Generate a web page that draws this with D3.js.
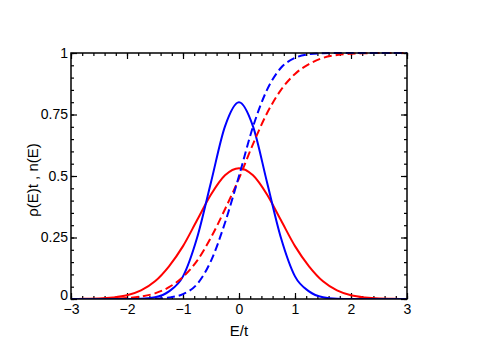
<!DOCTYPE html>
<html>
<head>
<meta charset="utf-8">
<script src="https://cdn.jsdelivr.net/npm/d3@7"></script>
<style>
  body { margin: 0; background: #fff; }
  svg text { font-family: "Liberation Sans", Arial, sans-serif; }
</style>
</head>
<body>
<svg id="chart"></svg>
<script>
// energies E/t (step 0.25)
const energies = [-3, -2.75, -2.5, -2.25, -2, -1.75, -1.5, -1.25, -1, -0.75, -0.5, -0.25, 0,
    0.25, 0.5, 0.75, 1, 1.25, 1.5, 1.75, 2, 2.25, 2.5, 2.75, 3]

// rho(E)t, red (broad) and blue (narrow)
const rhoRed = [0, 0.001, 0.002, 0.006, 0.015, 0.035, 0.072, 0.133, 0.215, 0.32, 0.425, 0.503, 0.532,
    0.503, 0.425, 0.32, 0.215, 0.133, 0.072, 0.035, 0.015, 0.006, 0.002, 0.001, 0]
const rhoBlue = [0, 0, 0, 0, 0, 0.001, 0.007, 0.031, 0.092, 0.248, 0.475, 0.702, 0.8,
    0.702, 0.475, 0.248, 0.092, 0.031, 0.007, 0.001, 0, 0, 0, 0, 0]

// n(E), dashed
const nRed = [0, 0, 0, 0.001, 0.004, 0.01, 0.023, 0.048, 0.09, 0.155, 0.25, 0.365, 0.49,
    0.63, 0.755, 0.85, 0.915, 0.955, 0.98, 0.992, 0.997, 0.999, 1, 1, 1]
const nBlue = [0, 0, 0, 0, 0, 0, 0.001, 0.006, 0.02, 0.06, 0.155, 0.31, 0.5,
    0.7, 0.85, 0.94, 0.98, 0.995, 0.999, 1, 1, 1, 1, 1, 1]

const xTicks = [-3, -2, -1, 0, 1, 2, 3]
const yTicks = [0, 0.25, 0.5, 0.75, 1]
const yTickLabels = ['0', '0.25', '0.5', '0.75', '1']

const width = 486, height = 343
const margin = {left: 71, right: 79, top: 53, bottom: 44}

let svg = d3.select('#chart').attr('width', width).attr('height', height)

let scale_x = d3.scaleLinear().domain([-3, 3]).range([margin.left, width - margin.right])
let scale_y = d3.scaleLinear().domain([0, 1]).range([height - margin.bottom, margin.top])

const minorX = d3.range(-3, 3.001, 0.2).map(v => +v.toFixed(2))
const minorY = d3.range(0, 1.001, 0.05).map(v => +v.toFixed(2))

function drawAxis(axis, tx, ty, withText) {
    let g = svg.append('g').attr('transform', 'translate(' + tx + ',' + ty + ')').call(axis)
    g.select('.domain').remove()
    g.selectAll('line').attr('stroke', '#000').attr('stroke-width', 1.2)
    g.selectAll('text').attr('fill', '#000').style('font-size', '14px')
    if (!withText) g.selectAll('text').remove()
    return g
}

const bottom = height - margin.bottom, right = width - margin.right
// major ticks
drawAxis(d3.axisBottom(scale_x).tickValues(xTicks).tickSize(-6).tickPadding(5)
    .tickFormat(d3.format('d')), 0, bottom, true)
drawAxis(d3.axisTop(scale_x).tickValues(xTicks).tickSize(-6), 0, margin.top, false)
let yAxis = drawAxis(d3.axisLeft(scale_y).tickValues(yTicks).tickSize(-6).tickPadding(3)
    .tickFormat((d, i) => yTickLabels[i]), margin.left, 0, true)
// the "0" sits a bit higher so it clears the "-3"
yAxis.selectAll('text').filter(d => d === 0).attr('y', -4)
drawAxis(d3.axisRight(scale_y).tickValues(yTicks).tickSize(-6), right, 0, false)
// minor ticks
drawAxis(d3.axisBottom(scale_x).tickValues(minorX).tickSize(-3), 0, bottom, false)
drawAxis(d3.axisTop(scale_x).tickValues(minorX).tickSize(-3), 0, margin.top, false)
drawAxis(d3.axisLeft(scale_y).tickValues(minorY).tickSize(-3), margin.left, 0, false)
drawAxis(d3.axisRight(scale_y).tickValues(minorY).tickSize(-3), right, 0, false)

// curves
const series = [
    {values: rhoRed, color: '#ff0000', dash: null},
    {values: rhoBlue, color: '#0000ff', dash: null},
    {values: nRed, color: '#ff0000', dash: '8,4'},
    {values: nBlue, color: '#0000ff', dash: '8,4'}
]
svg.append('clipPath').attr('id', 'plotClip').append('rect')
    .attr('x', margin.left).attr('y', margin.top - 2)
    .attr('width', right - margin.left).attr('height', bottom - margin.top + 2)

for (let s of series) {
    let linePath = d3.line()
        .x((d, i) => scale_x(energies[i]))
        .y(d => scale_y(d))
        .curve(d3.curveMonotoneX)
    svg.append('path')
        .attr('clip-path', 'url(#plotClip)')
        .attr('fill', 'none')
        .attr('stroke', s.color)
        .attr('stroke-width', 2)
        .attr('stroke-dasharray', s.dash)
        .attr('d', linePath(s.values))
}

// frame
svg.append('rect')
    .attr('x', margin.left).attr('y', margin.top)
    .attr('width', right - margin.left).attr('height', bottom - margin.top)
    .attr('fill', 'none').attr('stroke', '#000').attr('stroke-width', 1.5)

// axis titles
svg.append('text')
    .attr('x', (margin.left + right) / 2).attr('y', 336)
    .attr('text-anchor', 'middle').style('font-size', '15px')
    .text('E/t')
svg.append('text')
    .attr('transform', 'translate(38,' + 180 + ') rotate(-90)')
    .attr('text-anchor', 'middle').style('font-size', '15px')
    .text('ρ(E)t , n(E)')
</script>
</body>
</html>
